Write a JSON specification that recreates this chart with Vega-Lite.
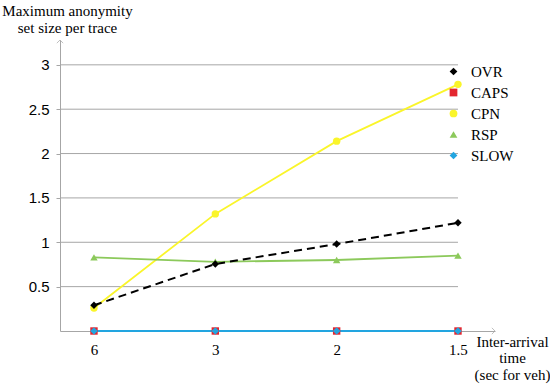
{
  "$schema": "https://vega.github.io/schema/vega-lite/v6.json",
  "width": 435,
  "height": 291,
  "autosize": {"type": "none"},
  "padding": {"left": 60, "top": 40, "right": 55, "bottom": 56},
  "background": "white",
  "config": {
    "view": {"stroke": null},
    "axis": {"grid": false, "domainColor": "#A6A6A6", "tickColor": "#A6A6A6"}
  },
  "datasets": {
    "series": [
      {"pos": 0, "time": "6", "series": "CAPS", "value": 0},
      {"pos": 1, "time": "3", "series": "CAPS", "value": 0},
      {"pos": 2, "time": "2", "series": "CAPS", "value": 0},
      {"pos": 3, "time": "1.5", "series": "CAPS", "value": 0},
      {"pos": 0, "time": "6", "series": "CPN", "value": 0.26},
      {"pos": 1, "time": "3", "series": "CPN", "value": 1.32},
      {"pos": 2, "time": "2", "series": "CPN", "value": 2.14},
      {"pos": 3, "time": "1.5", "series": "CPN", "value": 2.78},
      {"pos": 0, "time": "6", "series": "RSP", "value": 0.83},
      {"pos": 1, "time": "3", "series": "RSP", "value": 0.78},
      {"pos": 2, "time": "2", "series": "RSP", "value": 0.80},
      {"pos": 3, "time": "1.5", "series": "RSP", "value": 0.85},
      {"pos": 0, "time": "6", "series": "SLOW", "value": 0},
      {"pos": 1, "time": "3", "series": "SLOW", "value": 0},
      {"pos": 2, "time": "2", "series": "SLOW", "value": 0},
      {"pos": 3, "time": "1.5", "series": "SLOW", "value": 0},
      {"pos": 0, "time": "6", "series": "OVR", "value": 0.29},
      {"pos": 1, "time": "3", "series": "OVR", "value": 0.755},
      {"pos": 2, "time": "2", "series": "OVR", "value": 0.98},
      {"pos": 3, "time": "1.5", "series": "OVR", "value": 1.22}
    ],
    "grid": [{"y": 0.5}, {"y": 1}, {"y": 1.5}, {"y": 2}, {"y": 2.5}, {"y": 3}]
  },
  "layer": [
    {
      "data": {"name": "grid"},
      "mark": {"type": "rule", "color": "#A6A6A6", "strokeWidth": 1},
      "encoding": {
        "y": {
          "field": "y", "type": "quantitative",
          "scale": {"domain": [0, 3.28], "nice": false, "zero": false},
          "axis": {
            "values": [0.5, 1, 1.5, 2, 2.5, 3],
            "format": "~g",
            "tickSize": 4,
            "labelPadding": 7,
            "labelFont": "Liberation Sans",
            "labelFontSize": 15,
            "labelColor": "#000000",
            "title": ["Maximum anonymity", "set size per trace"],
            "titleFont": "Liberation Serif",
            "titleFontSize": 15,
            "titleFontWeight": "normal",
            "titleColor": "#000000",
            "titleAngle": 0,
            "titleAlign": "center",
            "titleBaseline": "alphabetic",
            "titleX": 7,
            "titleY": -25,
            "titleLineHeight": 17
          }
        },
        "x": {
          "datum": -0.28, "type": "quantitative",
          "scale": {"domain": [-0.28, 3.305], "nice": false, "zero": false},
          "axis": {
            "values": [0, 1, 2, 3],
            "labelExpr": "datum.value == 0 ? '6' : datum.value == 1 ? '3' : datum.value == 2 ? '2' : '1.5'",
            "ticks": false,
            "labelPadding": 11,
            "labelFont": "Liberation Serif",
            "labelFontSize": 15,
            "labelColor": "#000000",
            "title": ["Inter-arrival", "time", "(sec for veh)"],
            "titleFont": "Liberation Serif",
            "titleFontSize": 15,
            "titleFontWeight": "normal",
            "titleColor": "#000000",
            "titleAlign": "center",
            "titleBaseline": "alphabetic",
            "titleX": 452,
            "titleY": 15,
            "titleLineHeight": 16.5
          }
        },
        "x2": {"datum": 3}
      }
    },
    {
      "data": {"name": "series"},
      "transform": [{"filter": "datum.series == 'CPN'"}],
      "mark": {"type": "line", "strokeWidth": 1.8, "color": "#FAF52A"},
      "encoding": {
        "x": {"field": "pos", "type": "quantitative"},
        "y": {"field": "value", "type": "quantitative"}
      }
    },
    {
      "data": {"name": "series"},
      "transform": [{"filter": "datum.series == 'RSP'"}],
      "mark": {"type": "line", "strokeWidth": 1.8, "color": "#8CC95B"},
      "encoding": {
        "x": {"field": "pos", "type": "quantitative"},
        "y": {"field": "value", "type": "quantitative"}
      }
    },
    {
      "data": {"name": "series"},
      "transform": [{"filter": "datum.series == 'CAPS'"}],
      "mark": {"type": "line", "strokeWidth": 1.8, "color": "#E3262F"},
      "encoding": {
        "x": {"field": "pos", "type": "quantitative"},
        "y": {"field": "value", "type": "quantitative"}
      }
    },
    {
      "data": {"name": "series"},
      "transform": [{"filter": "datum.series == 'SLOW'"}],
      "mark": {"type": "line", "strokeWidth": 2, "color": "#22A5E0"},
      "encoding": {
        "x": {"field": "pos", "type": "quantitative"},
        "y": {"field": "value", "type": "quantitative"}
      }
    },
    {
      "data": {"name": "series"},
      "transform": [{"filter": "datum.series == 'OVR'"}],
      "mark": {"type": "line", "strokeWidth": 2, "color": "#000000", "strokeDash": [8, 5]},
      "encoding": {
        "x": {"field": "pos", "type": "quantitative"},
        "y": {"field": "value", "type": "quantitative"}
      }
    },
    {
      "data": {"name": "series"},
      "mark": {"type": "point", "filled": true, "opacity": 1, "size": 55},
      "encoding": {
        "x": {"field": "pos", "type": "quantitative"},
        "y": {"field": "value", "type": "quantitative"},
        "color": {
          "field": "series", "type": "nominal",
          "scale": {"domain": ["OVR", "CAPS", "CPN", "RSP", "SLOW"], "range": ["#000000", "#E3262F", "#FAF52A", "#8CC95B", "#22A5E0"]},
          "legend": {
            "title": null,
            "orient": "none",
            "legendX": 386,
            "legendY": 24,
            "labelFont": "Liberation Serif",
            "labelFontSize": 15,
            "labelColor": "#000000",
            "symbolSize": 60,
            "rowPadding": 5,
            "labelOffset": 10
          }
        },
        "shape": {
          "field": "series", "type": "nominal",
          "scale": {"domain": ["OVR", "CAPS", "CPN", "RSP", "SLOW"], "range": ["diamond", "square", "circle", "triangle-up", "diamond"]},
          "legend": {
            "title": null,
            "orient": "none",
            "legendX": 386,
            "legendY": 24,
            "labelFont": "Liberation Serif",
            "labelFontSize": 15,
            "labelColor": "#000000",
            "symbolSize": 60,
            "rowPadding": 5,
            "labelOffset": 10
          }
        }
      }
    },
    {
      "data": {"values": [{"x": 3.305, "y": 0}]},
      "mark": {"type": "point", "shape": "M-1,-1L0,0L-1,1", "filled": false, "stroke": "#A6A6A6", "strokeWidth": 1, "size": 40},
      "encoding": {
        "x": {"field": "x", "type": "quantitative"},
        "y": {"field": "y", "type": "quantitative"}
      }
    },
    {
      "data": {"values": [{"x": -0.28, "y": 3.28}]},
      "mark": {"type": "point", "shape": "M-1,1L0,0L1,1", "filled": false, "stroke": "#A6A6A6", "strokeWidth": 1, "size": 40},
      "encoding": {
        "x": {"field": "x", "type": "quantitative"},
        "y": {"field": "y", "type": "quantitative"}
      }
    }
  ]
}
